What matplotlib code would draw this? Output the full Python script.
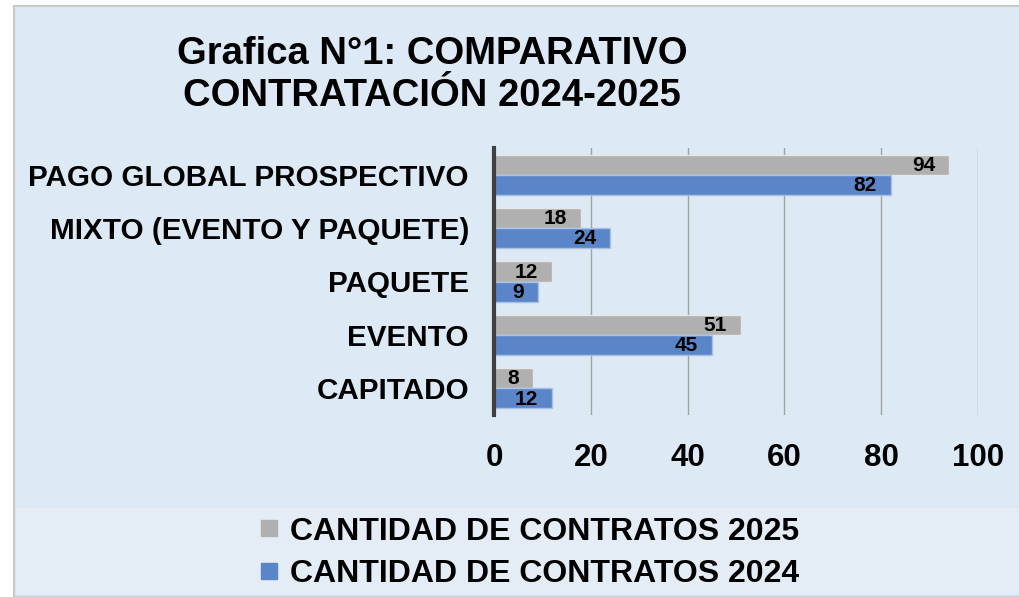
import matplotlib
matplotlib.use("Agg")
from matplotlib import pyplot as plt
from matplotlib.patches import Rectangle
from matplotlib.lines import Line2D
import numpy as np

categorias = ['PAGO GLOBAL PROSPECTIVO', 'MIXTO (EVENTO Y PAQUETE)', 'PAQUETE', 'EVENTO', 'CAPITADO']
contratos_2025 = [94, 18, 12, 51, 8]
contratos_2024 = [82, 24, 9, 45, 12]
ticks_x = [0, 20, 40, 60, 80, 100]

gris = '#b0b0b0'
azul = '#5b85c9'
fondo = '#dde9f5'
fondo_leyenda = '#e4edf6'
fuente = ['Liberation Sans', 'DejaVu Sans']

fig = plt.figure(figsize=(10.2, 5.97), dpi=100)
W, H = 1020, 597

# marco de fondo y zona de la leyenda
fig.patches.append(Rectangle((14 / W, 0), 1 - 14 / W, 1 - 6 / H, transform=fig.transFigure,
                             facecolor=fondo, edgecolor='#c8c8c8', lw=1.5, zorder=0))
fig.patches.append(Rectangle((16 / W, 3 / H), 1 - 16 / W, (597 - 508 - 3) / H, transform=fig.transFigure,
                             facecolor=fondo_leyenda, edgecolor='none', zorder=0))

ax = fig.add_axes([494 / W, 1 - 415 / H, (978 - 494) / W, (415 - 148) / H])
ax.set_zorder(2)
ax.set_facecolor('none')

y = np.arange(len(categorias))[::-1]
h = 0.375
ax.barh(y + h / 2, contratos_2025, height=h, color=gris, edgecolor='#e6e6e6', lw=1, zorder=3)
ax.barh(y - h / 2, contratos_2024, height=h, color=azul, edgecolor='#a9c1e6', lw=1, zorder=3)

# valores dentro del extremo de cada barra
for serie, dy in ((contratos_2025, h / 2), (contratos_2024, -h / 2)):
    for yi, v in zip(y, serie):
        ax.annotate(str(v), (v, yi + dy), xytext=(-10, -0.5), textcoords='offset points',
                    ha='right', va='center', fontsize=15, fontweight='bold',
                    family=fuente, zorder=4)

ax.set_xlim(0, 100)
ax.set_ylim(-0.5, 4.5)
ax.set_xticks(ticks_x)
ax.set_yticks(y)
ax.set_yticklabels(categorias)
ax.xaxis.grid(True, color='#a3a3a3', lw=1, zorder=0)
ax.set_axisbelow(True)
for s in ['top', 'right', 'bottom']:
    ax.spines[s].set_visible(False)
ax.spines['left'].set_color('#404040')
ax.spines['left'].set_linewidth(3)
ax.spines['left'].set_zorder(5)
ax.tick_params(axis='both', length=0)
ax.tick_params(axis='x', pad=20)
ax.tick_params(axis='y', pad=18)
for t in ax.get_xticklabels():
    t.set_fontsize(22.5)
    t.set_fontweight('bold')
    t.set_family(fuente)
for t in ax.get_yticklabels():
    t.set_fontsize(21.3)
    t.set_fontweight('bold')
    t.set_family(fuente)

fig.text(432 / W, 1 - 75 / H, 'Grafica N°1: COMPARATIVO\nCONTRATACIÓN 2024-2025', ha='center', va='center',
         fontsize=27.5, fontweight='bold', family=fuente, linespacing=1.25)

handles = [Line2D([], [], ls='none', marker='s', markersize=11, color=gris),
           Line2D([], [], ls='none', marker='s', markersize=11, color=azul)]
fig.legend(handles, ['CANTIDAD DE CONTRATOS 2025', 'CANTIDAD DE CONTRATOS 2024'],
           loc='center', bbox_to_anchor=(530 / W, 1 - 553 / H), frameon=False,
           prop={'family': fuente, 'weight': 'bold', 'size': 23},
           handlelength=0.5, handletextpad=0.4, labelspacing=0.4)

fig.savefig('out.png', dpi=100)
